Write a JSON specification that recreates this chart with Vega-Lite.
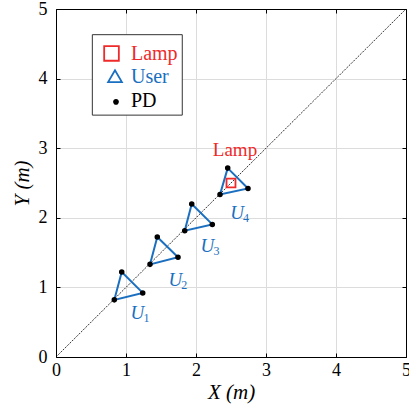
{
  "$schema": "https://vega.github.io/schema/vega-lite/v6.json",
  "width": 350,
  "height": 348,
  "autosize": {"type": "none"},
  "padding": {"left": 56, "top": 9, "right": 3, "bottom": 47},
  "background": "white",
  "config": {
    "view": {"stroke": null},
    "font": "Liberation Serif",
    "axis": {
      "domainColor": "black", "domainWidth": 1,
      "tickColor": "black", "tickSize": -4, "tickWidth": 1,
      "gridColor": "#dcdcdc", "gridWidth": 1,
      "labelFont": "Liberation Serif", "labelFontSize": 18, "labelColor": "black",
      "titleFont": "Liberation Serif", "titleFontSize": 21, "titleFontWeight": "normal", "titleColor": "black"
    }
  },
  "datasets": {
    "diag": [{"x": 0, "y": 0}, {"x": 5, "y": 5}],
    "tri": [
      {"user": "U1", "k": 0, "x": 0.939, "y": 1.222},
      {"user": "U1", "k": 1, "x": 1.239, "y": 0.921},
      {"user": "U1", "k": 2, "x": 0.833, "y": 0.821},
      {"user": "U1", "k": 3, "x": 0.939, "y": 1.222},
      {"user": "U2", "k": 0, "x": 1.447, "y": 1.725},
      {"user": "U2", "k": 1, "x": 1.743, "y": 1.432},
      {"user": "U2", "k": 2, "x": 1.343, "y": 1.331},
      {"user": "U2", "k": 3, "x": 1.447, "y": 1.725},
      {"user": "U3", "k": 0, "x": 1.939, "y": 2.198},
      {"user": "U3", "k": 1, "x": 2.233, "y": 1.905},
      {"user": "U3", "k": 2, "x": 1.839, "y": 1.815},
      {"user": "U3", "k": 3, "x": 1.939, "y": 2.198},
      {"user": "U4", "k": 0, "x": 2.453, "y": 2.714},
      {"user": "U4", "k": 1, "x": 2.743, "y": 2.422},
      {"user": "U4", "k": 2, "x": 2.343, "y": 2.336},
      {"user": "U4", "k": 3, "x": 2.453, "y": 2.714}
    ],
    "pts": [
      {"type": "Lamp", "x": 2.5, "y": 2.5},
      {"type": "PD", "x": 0.939, "y": 1.222},
      {"type": "PD", "x": 1.239, "y": 0.921},
      {"type": "PD", "x": 0.833, "y": 0.821},
      {"type": "PD", "x": 1.447, "y": 1.725},
      {"type": "PD", "x": 1.743, "y": 1.432},
      {"type": "PD", "x": 1.343, "y": 1.331},
      {"type": "PD", "x": 1.939, "y": 2.198},
      {"type": "PD", "x": 2.233, "y": 1.905},
      {"type": "PD", "x": 1.839, "y": 1.815},
      {"type": "PD", "x": 2.453, "y": 2.714},
      {"type": "PD", "x": 2.743, "y": 2.422},
      {"type": "PD", "x": 2.343, "y": 2.336}
    ],
    "labels": [
      {"main": "U", "sub": "1", "x": 1.164, "y": 0.638},
      {"main": "U", "sub": "2", "x": 1.704, "y": 1.105},
      {"main": "U", "sub": "3", "x": 2.164, "y": 1.59},
      {"main": "U", "sub": "4", "x": 2.586, "y": 2.073}
    ],
    "lamplabel": [{"text": "Lamp", "x": 2.557, "y": 2.977}],
    "legendbox": [{"x": 0.519, "x2": 1.804, "y": 3.475, "y2": 4.631}],
    "legenditems": [
      {"type": "Lamp", "sx": 0.793, "sy": 4.362, "lx": 1.071, "ly": 4.35},
      {"type": "User", "sx": 0.843, "sy": 4.035, "lx": 1.071, "ly": 4.022},
      {"type": "PD", "sx": 0.857, "sy": 3.666, "lx": 1.071, "ly": 3.68}
    ]
  },
  "layer": [
    {
      "data": {"name": "diag"},
      "mark": {"type": "line", "color": "black", "strokeWidth": 0.8, "strokeDash": [2, 1.2]},
      "encoding": {
        "x": {"field": "x", "type": "quantitative", "scale": {"domain": [0, 5], "nice": false},
          "axis": {"orient": "bottom", "values": [0, 1, 2, 3, 4, 5], "title": "X (m)", "titleFontStyle": "italic", "labelPadding": 8, "titlePadding": 2, "labelFlush": false, "labelOverlap": false}},
        "y": {"field": "y", "type": "quantitative", "scale": {"domain": [0, 5], "nice": false},
          "axis": {"orient": "left", "values": [0, 1, 2, 3, 4, 5], "title": "Y (m)", "titleFontStyle": "italic", "labelPadding": 13, "titlePadding": 6, "labelFlush": false, "labelOverlap": false}}
      }
    },
    {
      "data": {"name": "legendbox"},
      "mark": {"type": "rect", "fill": "white", "stroke": "#333333", "strokeWidth": 1},
      "encoding": {
        "x": {"field": "x", "type": "quantitative", "axis": null},
        "x2": {"field": "x2"},
        "y": {"field": "y", "type": "quantitative", "axis": null},
        "y2": {"field": "y2"}
      }
    },
    {
      "data": {"name": "legenditems"},
      "mark": {"type": "point", "opacity": 1, "strokeWidth": 1.8},
      "encoding": {
        "x": {"field": "sx", "type": "quantitative", "axis": null},
        "y": {"field": "sy", "type": "quantitative", "axis": null},
        "shape": {"field": "type", "type": "nominal", "legend": null,
          "scale": {"domain": ["Lamp", "User", "PD"], "range": ["square", "triangle-up", "circle"]}},
        "stroke": {"condition": [{"test": "datum.type === 'Lamp'", "value": "#ee2a2a"}, {"test": "datum.type === 'User'", "value": "#1a6fc0"}], "value": "black"},
        "fill": {"condition": {"test": "datum.type === 'PD'", "value": "black"}, "value": "transparent"},
        "size": {"condition": [{"test": "datum.type === 'PD'", "value": 16}, {"test": "datum.type === 'User'", "value": 190}], "value": 215}
      }
    },
    {
      "data": {"name": "legenditems"},
      "mark": {"type": "text", "font": "Liberation Serif", "fontSize": 20, "align": "left", "baseline": "middle"},
      "encoding": {
        "x": {"field": "lx", "type": "quantitative", "axis": null},
        "y": {"field": "ly", "type": "quantitative", "axis": null},
        "text": {"field": "type"},
        "color": {"condition": [{"test": "datum.type === 'Lamp'", "value": "#ee2a2a"}, {"test": "datum.type === 'User'", "value": "#1a6fc0"}], "value": "black"}
      }
    },
    {
      "data": {"name": "tri"},
      "mark": {"type": "line", "color": "#1a6fc0", "strokeWidth": 2},
      "encoding": {
        "x": {"field": "x", "type": "quantitative", "axis": null},
        "y": {"field": "y", "type": "quantitative", "axis": null},
        "detail": {"field": "user"},
        "order": {"field": "k", "type": "quantitative"}
      }
    },
    {
      "data": {"name": "pts"},
      "mark": {"type": "point", "opacity": 1, "strokeWidth": 1.8},
      "encoding": {
        "x": {"field": "x", "type": "quantitative", "axis": null},
        "y": {"field": "y", "type": "quantitative", "axis": null},
        "shape": {"field": "type", "type": "nominal", "legend": null},
        "stroke": {"condition": {"test": "datum.type === 'Lamp'", "value": "#ee2a2a"}, "value": "black"},
        "fill": {"condition": {"test": "datum.type === 'PD'", "value": "black"}, "value": "transparent"},
        "size": {"condition": {"test": "datum.type === 'PD'", "value": 14}, "value": 80}
      }
    },
    {
      "data": {"name": "labels"},
      "mark": {"type": "text", "font": "Liberation Serif", "fontSize": 19, "fontStyle": "italic", "color": "#1a6fc0", "align": "center", "baseline": "middle"},
      "encoding": {
        "x": {"field": "x", "type": "quantitative", "axis": null},
        "y": {"field": "y", "type": "quantitative", "axis": null},
        "text": {"field": "main"}
      }
    },
    {
      "data": {"name": "labels"},
      "mark": {"type": "text", "font": "Liberation Serif", "fontSize": 12, "color": "#1a6fc0", "align": "left", "baseline": "middle", "dx": 6, "dy": 5},
      "encoding": {
        "x": {"field": "x", "type": "quantitative", "axis": null},
        "y": {"field": "y", "type": "quantitative", "axis": null},
        "text": {"field": "sub"}
      }
    },
    {
      "data": {"name": "lamplabel"},
      "mark": {"type": "text", "font": "Liberation Serif", "fontSize": 19, "color": "#ee2a2a", "align": "center", "baseline": "middle"},
      "encoding": {
        "x": {"field": "x", "type": "quantitative",
          "axis": {"orient": "top", "values": [0, 1, 2, 3, 4, 5], "labels": false, "title": null, "grid": false}},
        "y": {"field": "y", "type": "quantitative",
          "axis": {"orient": "right", "values": [0, 1, 2, 3, 4, 5], "labels": false, "title": null, "grid": false}},
        "text": {"field": "text"}
      }
    }
  ],
  "resolve": {"axis": {"x": "independent", "y": "independent"}}
}
